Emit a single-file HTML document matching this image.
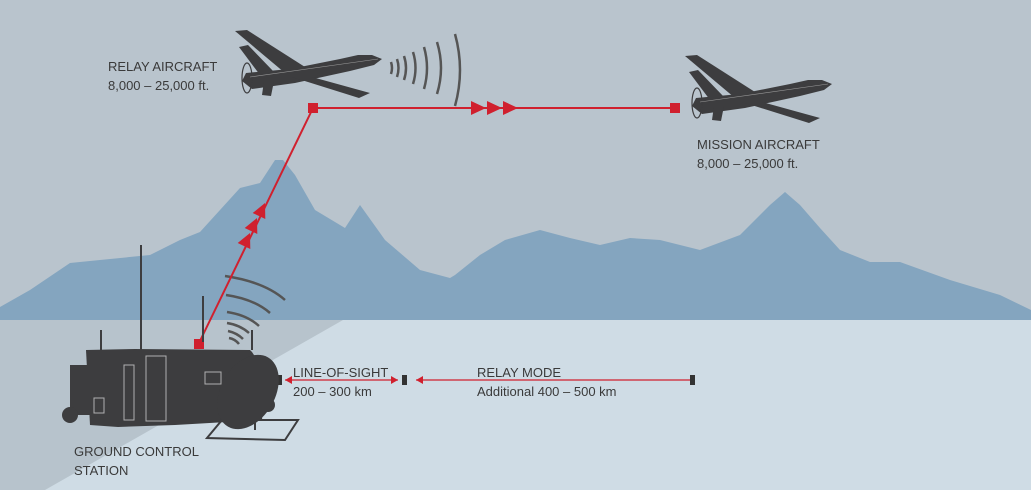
<!DOCTYPE html>
<html><head><meta charset="utf-8"><style>
body{margin:0;width:1031px;height:490px;overflow:hidden;background:#b9c4cd}
svg{display:block}
text{font-family:"Liberation Sans",sans-serif;fill:#3a3a3a;font-size:13px}
</style></head><body>
<svg width="1031" height="490" viewBox="0 0 1031 490">
<defs>
<g id="drone">
<polygon fill="#3d3d3f" points="696,98 740,94 790,84 808,80 822,80 832,84 824,90 800,96 745,108 702,114 692,106"/>
<polygon fill="#3d3d3f" points="685,56 697,55 755,92 735,98"/>
<polygon fill="#3d3d3f" points="742,102 762,102 820,118 809,123"/>
<polygon fill="#3d3d3f" points="689,72 698,70 724,97 710,100"/>
<polygon fill="#3d3d3f" points="714,106 724,106 721,121 712,120"/>
<ellipse cx="697" cy="103" rx="5" ry="15" fill="none" stroke="#3d3d3f" stroke-width="1.2"/>
<line x1="700" y1="102" x2="828" y2="84" stroke="#999" stroke-width="0.6"/>
</g>
</defs>
<rect width="1031" height="320" fill="#b9c4cd"/>
<polygon fill="#84a5bf" points="0,307 30,290 70,263 100,260 150,255 180,240 200,232 240,188 260,183 275,160 283,160 295,175 315,210 345,228 360,205 385,240 420,270 450,278 455,275 480,255 505,240 540,230 570,238 600,245 630,238 660,240 700,250 740,235 770,205 785,192 800,205 820,228 840,250 870,262 900,262 950,280 1000,295 1031,310 1031,320 0,320"/>
<rect y="320" width="1031" height="170" fill="#cfdce5"/>
<polygon fill="#b7c3cc" points="0,320 343,320 45,490 0,490"/>
<use href="#drone" transform="translate(-450,-25)"/>
<use href="#drone"/>
<g fill="none" stroke="#555" stroke-width="2.5">
<path d="M391,62 q2,6 0,12"/><path d="M397,59 q3,9 0,18"/><path d="M404,56 q4,12 0,24"/><path d="M413,52 q5,16 0,32"/><path d="M424,47 q6,21 0,42"/><path d="M437,42 q8,26 0,52"/><path d="M455,34 q10,36 0,72"/>
</g>
<g fill="none" stroke="#555" stroke-width="2.5">
<path d="M225,276 q40,6 60,24"/><path d="M226,295 q28,4 44,18"/><path d="M227,312 q20,3 32,14"/><path d="M227,323 q13,2 22,10"/><path d="M228,331 q9,2 15,8"/><path d="M229,338 q6,1 10,6"/>
</g>
<g stroke="#d0202e" stroke-width="2" fill="#d0202e">
<line x1="199" y1="343" x2="313" y2="108"/>
<line x1="313" y1="108" x2="675" y2="108"/>
<rect x="194" y="339" width="10" height="10" stroke="none"/>
<rect x="308" y="103" width="10" height="10" stroke="none"/>
<rect x="670" y="103" width="10" height="10" stroke="none"/>
<polygon stroke="none" points="471,101 486,108 471,115"/>
<polygon stroke="none" points="487,101 502,108 487,115"/>
<polygon stroke="none" points="503,101 518,108 503,115"/>
<polygon stroke="none" points="250,233 250.3,249 237.7,243"/>
<polygon stroke="none" points="257,218 257.3,234 244.7,228"/>
<polygon stroke="none" points="265,203 265.3,219 252.7,213"/>
<line x1="285" y1="380" x2="398" y2="380" stroke-width="1.2"/>
<line x1="416" y1="380" x2="690" y2="380" stroke-width="1.2"/>
<polygon stroke="none" points="285,380 292,376 292,384"/>
<polygon stroke="none" points="398,380 391,376 391,384"/>
<polygon stroke="none" points="416,380 423,376 423,384"/>
</g>
<rect x="277" y="375" width="5" height="10" fill="#333"/>
<rect x="402" y="375" width="5" height="10" fill="#333"/>
<rect x="690" y="375" width="5" height="10" fill="#333"/>
<g fill="#3d3d3f">
<polygon points="86,350 135,349 250,350 252,352 265,372 262,420 175,425 118,427 90,425"/>
<rect x="70" y="365" width="20" height="50"/>
<circle cx="70" cy="415" r="8"/>
<circle cx="268" cy="405" r="7"/>
<ellipse cx="248" cy="392" rx="27" ry="40" transform="rotate(30 248 392)"/>
</g>
<g stroke="#3d3d3f" stroke-width="2" fill="none">
<line x1="141" y1="245" x2="141" y2="375"/>
<line x1="101" y1="330" x2="101" y2="375"/>
<line x1="203" y1="296" x2="203" y2="342"/>
<line x1="252" y1="330" x2="252" y2="350"/>
<polygon points="207,438 222,420 298,420 285,440"/>
<line x1="255" y1="400" x2="255" y2="430"/>
</g>
<g stroke="#b0b0b0" stroke-width="1" fill="none">
<rect x="146" y="356" width="20" height="65"/>
<rect x="124" y="365" width="10" height="55"/>
<rect x="94" y="398" width="10" height="15"/>
<rect x="205" y="372" width="16" height="12"/>
</g>
<text x="108" y="71">RELAY AIRCRAFT</text>
<text x="108" y="90">8,000 – 25,000 ft.</text>
<text x="697" y="149">MISSION AIRCRAFT</text>
<text x="697" y="168">8,000 – 25,000 ft.</text>
<text x="293" y="377">LINE-OF-SIGHT</text>
<text x="293" y="396">200 – 300 km</text>
<text x="477" y="377">RELAY MODE</text>
<text x="477" y="396">Additional 400 – 500 km</text>
<text x="74" y="456">GROUND CONTROL</text>
<text x="74" y="475">STATION</text>
</svg>
</body></html>
